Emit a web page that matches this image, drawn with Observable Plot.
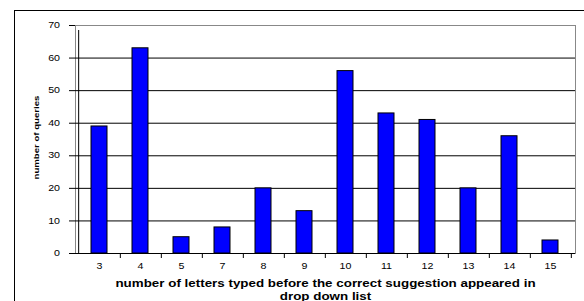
<!DOCTYPE html>
<html>
<head>
<meta charset="utf-8">
<script src="https://cdn.jsdelivr.net/npm/d3@7"></script>
<script src="https://cdn.jsdelivr.net/npm/@observablehq/plot@0.6"></script>
<style>
  html, body { margin: 0; padding: 0; background: #fff; }
  #wrap { position: relative; width: 584px; height: 301px; overflow: hidden; }
  #border { position: absolute; left: 14px; top: 10px; width: 620px; height: 340px; border: 1px solid #000; }
  #chart { position: absolute; left: 0; top: 0; }
</style>
</head>
<body>
<div id="wrap"><div id="border"></div><div id="chart"></div></div>
<script>
const categories = ["3", "4", "5", "7", "8", "9", "10", "11", "12", "13", "14", "15"];
const counts = [39, 63, 5, 8, 20, 13, 56, 43, 41, 20, 36, 4];
const yTicks = [0, 10, 20, 30, 40, 50, 60, 70];
const gridTicks = [10, 20, 30, 40, 50, 60];
const xTitle = "number of letters typed before the correct suggestion appeared in\ndrop down list";
const yTitle = "number of queries";

const data = categories.map((c, i) => ({category: c, value: counts[i]}));

const W = 584, H = 301, mL = 75, mR = 9, mT = 25, mB = 48;
const step = (W - mL - mR) / categories.length;
const stretch = 1.3; // horizontal text stretch seen in the reference

const chart = Plot.plot({
  width: W,
  height: H,
  marginLeft: mL,
  marginRight: mR,
  marginTop: mT,
  marginBottom: mB,
  style: {fontFamily: "Arial, 'Liberation Sans', sans-serif", fontSize: "8.2px", color: "#000", background: "transparent", overflow: "visible"},
  x: {domain: categories, paddingInner: 0.6, paddingOuter: 0.3},
  y: {domain: [0, 70]},
  marks: [
    Plot.frame({stroke: "#888"}),
    Plot.gridY(gridTicks, {stroke: "#000", strokeOpacity: 1}),
    Plot.axisY({ticks: yTicks, tickSize: 6, tickPadding: 9.5, label: null, fontSize: 8.2}),
    Plot.axisX({tickSize: 0, tickPadding: 10, label: null, fontSize: 8.2}),
    Plot.barY(data, {x: "category", y: "value", fill: "#0000ff", stroke: "#000", strokeWidth: 1}),
    Plot.ruleY([0], {stroke: "#000"}),
    Plot.ruleX([categories[0]], {x: d => d, dx: -step / 2, y1: 0, y2: 70, insetBottom: -5, stroke: "#000"}),
    Plot.ruleX(categories, {x: d => d, dx: step / 2, y1: 0, y2: 0, insetBottom: -5, stroke: "#000"}),
    Plot.text([xTitle], {frameAnchor: "bottom", dy: 36, textAnchor: "middle", lineAnchor: "middle", lineHeight: 1.2, fontWeight: "bold", fontSize: 10.3}),
    Plot.text([yTitle], {frameAnchor: "left", dx: -39, dy: -2, rotate: -90, textAnchor: "middle", lineAnchor: "middle", fontWeight: "bold", fontSize: 7.4})
  ]
});

// Stretch every text horizontally about its own anchor point.
const px = v => (v != null && /^\s*-?[\d.]+(px)?\s*$/.test(v)) ? parseFloat(v) : null;
chart.querySelectorAll("text").forEach(t => {
  const tr = t.getAttribute("transform") || "";
  let x = 0, y = 0;
  for (const [name, axis] of [["x", "x"], ["dx", "x"], ["y", "y"], ["dy", "y"]]) {
    const v = px(t.getAttribute(name));
    if (v != null) {
      if (axis === "x") x += v; else y += v;
      t.removeAttribute(name);
    }
  }
  t.setAttribute("transform", `${tr} translate(${x},${y}) scale(${stretch},1)`.trim());
});

document.getElementById("chart").appendChild(chart);
</script>
</body>
</html>
